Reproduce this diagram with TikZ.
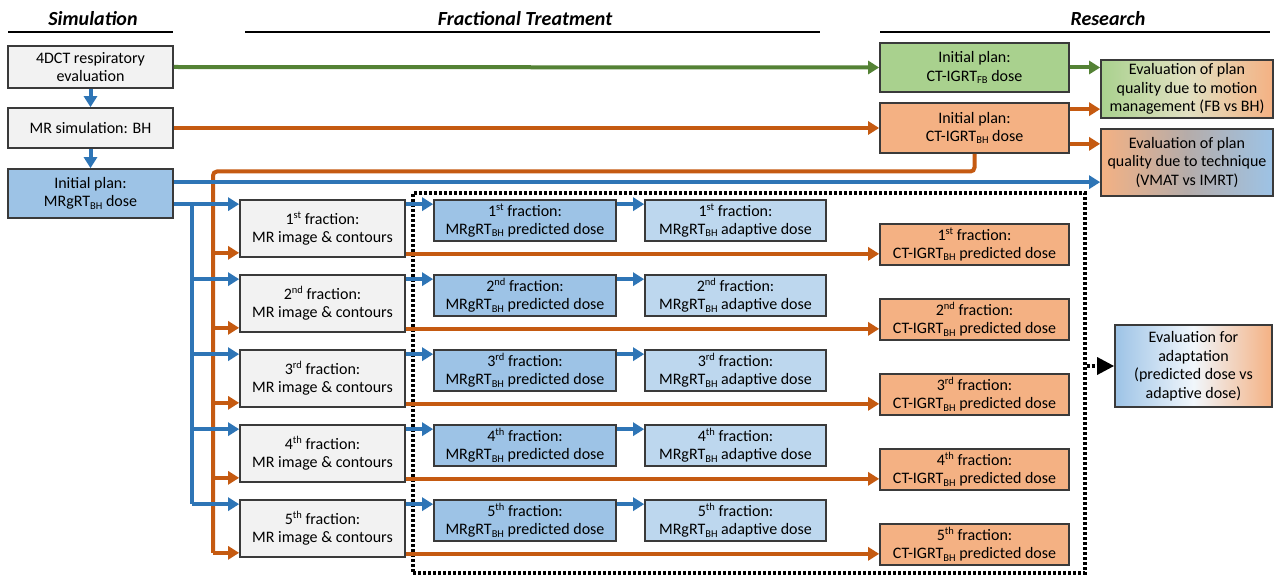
\documentclass[tikz,border=0pt]{standalone}
\usepackage{fontspec}
\setmainfont{Carlito}
\usetikzlibrary{arrows.meta,calc}
\definecolor{grayfill}{HTML}{F2F2F2}
\definecolor{bluefill}{HTML}{9DC3E6}
\definecolor{lbluefill}{HTML}{BDD7EE}
\definecolor{greenfill}{HTML}{A9D18E}
\definecolor{orangefill}{HTML}{F4B183}
\definecolor{blueline}{HTML}{2E75B6}
\definecolor{orangeline}{HTML}{C55A11}
\definecolor{greenline}{HTML}{548235}
\definecolor{boxborder}{HTML}{3A3A3A}
\newcommand\mysub[1]{\raisebox{-0.3ex}{\fontsize{10.5}{10.5}\selectfont #1}}
\newcommand\mysup[1]{\raisebox{0.75ex}{\fontsize{10.5}{10.5}\selectfont #1}}
\begin{document}
\begin{tikzpicture}[x=1pt,y=-1pt,
  box/.style={draw=boxborder, line width=1.7pt, align=center, inner sep=0pt,
    font=\fontsize{16}{18.5}\selectfont, text=black},
  hdr/.style={font=\fontsize{20}{22}\selectfont\bfseries\itshape, inner sep=0pt},
  hline/.style={line width=1.5pt, black},
  arr/.style={line width=4pt, -{Triangle[length=11pt,width=13pt]}},
  barr/.style={arr, draw=blueline},
  oarr/.style={arr, draw=orangeline},
  garr/.style={arr, draw=greenline},
  bline/.style={line width=4pt, draw=blueline},
  oline/.style={line width=4pt, draw=orangeline},
  dotline/.style={line width=3.4pt, black, dash pattern=on 3pt off 2pt},
]
\useasboundingbox (0,0) rectangle (1274,577);
\fill[white] (0,0) rectangle (1274,577);

% headers
\node[hdr] (hsim) at (93,19) {Simulation};
\node[hdr] (hfrac) at (525,19) {Fractional Treatment};
\node[hdr] (hres) at (1108,19) {Research};
\draw[hline] (8,32) -- (173,32);
\draw[hline] (245,32) -- (820,32);
\draw[hline] (880,32) -- (1270,32);

% dotted frame
\node[dotline, draw, minimum width=672pt, minimum height=380pt, inner sep=0pt] (frame) at (749,383) {};

% simulation column
\node[box, fill=grayfill, minimum width=165pt, minimum height=42pt] (sim1) at (90.5,67) {4DCT respiratory\\evaluation};
\node[box, fill=grayfill, minimum width=165pt, minimum height=40pt] (sim2) at (90.5,128) {MR simulation: BH};
\node[box, fill=bluefill, minimum width=165pt, minimum height=49pt] (sim3) at (90.5,193.5) {Initial plan:\\MRgRT\mysub{BH} dose};

% research
\node[box, fill=greenfill, minimum width=189pt, minimum height=49pt] (ctfb) at (974.5,67.5) {Initial plan:\\CT-IGRT\mysub{FB} dose};
\node[box, fill=orangefill, minimum width=189pt, minimum height=50pt] (ctbh) at (974.5,128) {Initial plan:\\CT-IGRT\mysub{BH} dose};
\node[box, left color=greenfill, right color=orangefill, middle color=white!60!greenfill!80!orangefill, minimum width=172pt, minimum height=58pt] (evm) at (1187,89) {Evaluation of plan\\quality due to motion\\management (FB vs BH)};
\node[box, left color=orangefill, right color=bluefill, middle color=gray!40!orangefill!60!bluefill, minimum width=172pt, minimum height=67pt] (evt) at (1187,162.5) {Evaluation of plan\\quality due to technique\\(VMAT vs IMRT)};
\node[box, left color=bluefill, right color=orangefill, middle color=white!85!bluefill, minimum width=157pt, minimum height=82pt] (eva) at (1193.5,366) {Evaluation for\\adaptation\\(predicted dose vs\\adaptive dose)};

% fraction rows
\foreach \i/\ord in {1/st,2/nd,3/rd,4/th,5/th} {
  \pgfmathsetmacro\t{200+75*(\i-1)}
  \node[box, fill=grayfill, minimum width=165pt, minimum height=57pt] (mr\i) at (322.5,{\t+28.5}) {\i\mysup{\ord} fraction:\\MR image \& contours};
  \node[box, fill=bluefill, minimum width=182pt, minimum height=41pt] (pr\i) at (525,{\t+20.5}) {\i\mysup{\ord} fraction:\\MRgRT\mysub{BH} predicted dose};
  \node[box, fill=lbluefill, minimum width=181pt, minimum height=41pt] (ad\i) at (735.5,{\t+20.5}) {\i\mysup{\ord} fraction:\\MRgRT\mysub{BH} adaptive dose};
  \node[box, fill=orangefill, minimum width=189pt, minimum height=41pt] (ctp\i) at (974.5,{\t+44.5}) {\i\mysup{\ord} fraction:\\CT-IGRT\mysub{BH} predicted dose};
}

% coordinates for trunks
\coordinate (otop) at (213,171.5);
\coordinate (btx) at (192,0);
\coordinate (b0) at ($(sim3.north east)+(0,14)$);

% orange trunk
\draw[oline, rounded corners=4pt] (ctbh.south) |- (otop) -- (otop |- {$(mr5.south west)+(0,-5)$});
\foreach \i in {1,...,5} {
  \coordinate (oi\i) at ($(mr\i.south west)+(0,-5)$);
  \draw[oarr] (otop |- oi\i) -- (oi\i);
  \coordinate (oo\i) at ($(mr\i.south east)+(0,-4)$);
  \draw[oarr] (oo\i) -- (oo\i -| ctp\i.west);
}

% simulation connectors
\draw[barr] (sim1.south) -- (sim2.north);
\draw[barr] (sim2.south) -- (sim3.north);
\draw[garr] (sim1.east) -- (ctfb.west);
\draw[garr] (ctfb.east) -- (ctfb.east -| evm.west);
\draw[oarr] (sim2.east) -- (sim2.east -| ctbh.west);
\coordinate (c1) at ($(ctbh.north east)+(0,7)$);
\coordinate (c2) at ($(ctbh.south east)+(0,-10)$);
\draw[oarr] (c1) -- (c1 -| evm.west);
\draw[oarr] (c2) -- (c2 -| evt.west);
\draw[barr] (b0) -- (b0 -| evt.west);

% blue trunk
\foreach \i in {1,...,5} {
  \coordinate (bi\i) at ($(mr\i.north west)+(0,5)$);
}
\draw[bline] (btx |- bi1) -- (btx |- bi5);
\draw[barr] (sim3.east |- bi1) -- (bi1);
\foreach \i in {2,...,5} {
  \draw[barr] (btx |- bi\i) -- (bi\i);
}
\foreach \i in {1,...,5} {
  \coordinate (mrE\i) at ($(mr\i.north east)+(0,5)$);
  \draw[barr] (mrE\i) -- (mrE\i -| pr\i.west);
  \coordinate (prE\i) at ($(pr\i.north east)+(0,5)$);
  \draw[barr] (prE\i) -- (prE\i -| ad\i.west);
}

% dotted arrow to adaptation evaluation
\draw[dotline, -{Triangle[length=17pt,width=17pt]}] (frame.east |- eva.west) -- (eva.west);
\end{tikzpicture}
\end{document}
